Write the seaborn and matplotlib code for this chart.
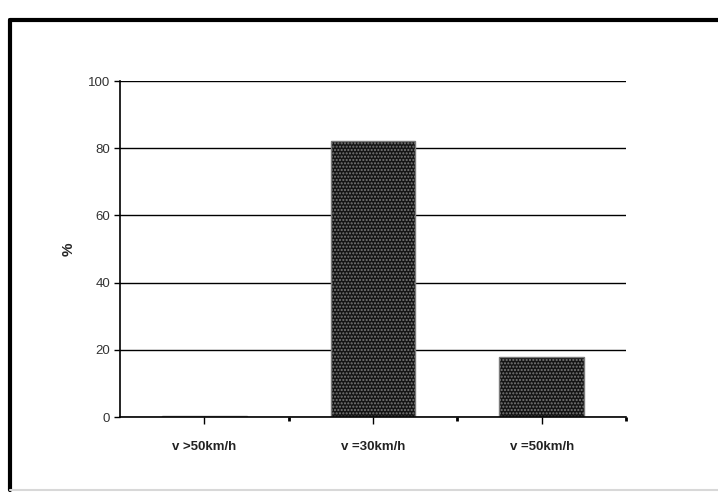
import matplotlib
matplotlib.use("Agg")
import matplotlib.pyplot as plt
import seaborn as sns
from matplotlib.lines import Line2D
from matplotlib.ticker import FixedLocator

# data
categories = ["v >50km/h", "v =30km/h", "v =50km/h"]
percent = [0.3, 82, 18]
y_ticks = [0, 20, 40, 60, 80, 100]

sns.set_style("white")
plt.rcParams["font.family"] = ["Liberation Sans", "DejaVu Sans"]

fig = plt.figure(figsize=(7.18, 4.97), dpi=100)
ax = fig.add_axes([120 / 718, 1 - 417 / 497, 506 / 718, 336 / 497])

sns.barplot(x=categories, y=percent, color="#151515", saturation=1,
            width=0.5, ax=ax, edgecolor="#7a7a7a", linewidth=1.0,
            hatch=".....")

ax.set_ylim(0, 100)
ax.set_xlim(-0.5, 2.5)
ax.set_yticks(y_ticks)
ax.yaxis.grid(True, color="black", linewidth=1)
ax.set_axisbelow(True)
ax.xaxis.set_minor_locator(FixedLocator([0.5, 1.5, 2.5]))

for side in ("top", "right"):
    ax.spines[side].set_visible(False)
for side in ("left", "bottom"):
    ax.spines[side].set_color("black")
    ax.spines[side].set_linewidth(1.2)

ax.tick_params(axis="y", length=4, width=1, color="black", labelsize=9.5,
               labelcolor="#333333", pad=3, left=True)
ax.tick_params(axis="x", which="major", length=5, width=1, color="black",
               bottom=True, pad=12)
ax.tick_params(axis="x", which="minor", length=3, width=2, color="black",
               bottom=True)
for lbl in ax.get_xticklabels():
    lbl.set_fontsize(9.5)
    lbl.set_fontweight("bold")
    lbl.set_color("#222222")

ax.set_xlabel("")
ax.set_ylabel("%", fontsize=11, fontweight="bold", labelpad=9)

# thick outer frame like the scanned original
fig.add_artist(Line2D([10 / 718, 10 / 718], [1 - 20 / 497, 1 - 490 / 497],
                      transform=fig.transFigure, color="black", linewidth=3))
fig.add_artist(Line2D([10 / 718, 1.0], [1 - 20 / 497, 1 - 20 / 497],
                      transform=fig.transFigure, color="black", linewidth=3))
fig.add_artist(Line2D([10 / 718, 1.0], [1 - 490 / 497, 1 - 490 / 497],
                      transform=fig.transFigure, color="#d8d8d8", linewidth=1.5))

fig.savefig("out.png", dpi=100, facecolor="white")
